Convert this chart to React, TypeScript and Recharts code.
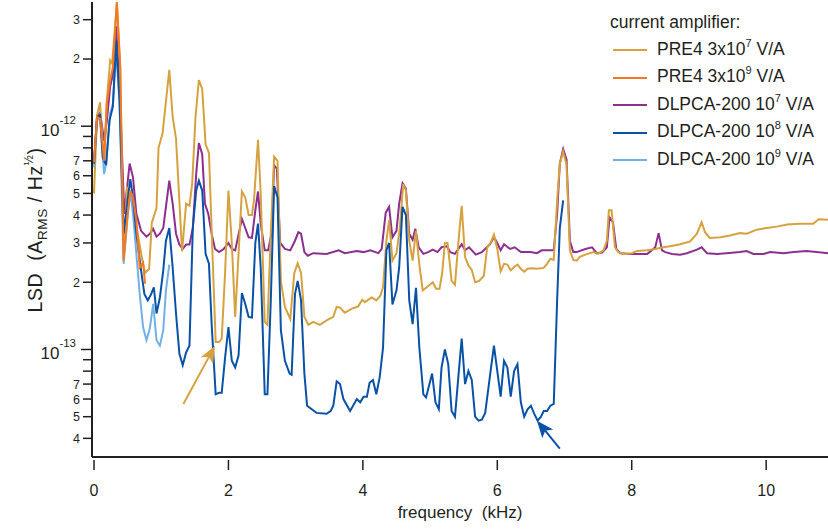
import { Legend, Line, LineChart, ReferenceLine, XAxis, YAxis } from 'recharts';

const FONT = '"Liberation Sans", Arial, Helvetica, sans-serif';
const INK = '#231f20';

// frequency in kHz, LSD in units of 1e-13 A_RMS/Hz^1/2
const freqPre4e7 = [
  0, 0.045, 0.09, 0.1, 0.15, 0.19, 0.24, 0.27, 0.34, 0.39, 0.44, 0.49, 0.54, 0.58, 0.65, 0.72, 0.76, 0.82, 0.86, 0.93,
  0.96, 1.02, 1.12, 1.17, 1.22, 1.31, 1.37, 1.42, 1.46, 1.51, 1.56, 1.61, 1.66, 1.71, 1.77, 1.81, 1.86, 1.9, 1.95, 2.0,
  2.05, 2.1, 2.2, 2.25, 2.3, 2.35, 2.38, 2.44, 2.48, 2.54, 2.58, 2.63, 2.68, 2.73, 2.78, 2.84, 2.92, 2.98, 3.03, 3.08,
  3.13, 3.19, 3.26, 3.36, 3.46, 3.56, 3.61, 3.66, 3.73, 3.83, 3.93, 3.99, 4.03, 4.13, 4.2, 4.26, 4.3, 4.35, 4.39, 4.44,
  4.5, 4.55, 4.6, 4.64, 4.69, 4.74, 4.79, 4.84, 4.89, 4.95, 5.04, 5.09, 5.14, 5.18, 5.22, 5.26, 5.32, 5.37, 5.42, 5.47,
  5.52, 5.57, 5.62, 5.67, 5.73, 5.8, 5.85, 5.9, 5.95, 6.0, 6.05, 6.1, 6.15, 6.2, 6.25, 6.3, 6.35, 6.4, 6.45, 6.52,
  6.59, 6.69, 6.74, 6.79, 6.84, 6.89, 6.93, 6.98, 7.03, 7.08, 7.13, 7.18, 7.23, 7.31, 7.43, 7.5, 7.58, 7.63, 7.66, 7.7,
  7.75, 7.8, 7.88, 8.0, 8.08, 8.23, 8.35, 8.47, 8.57, 8.72, 8.87, 8.97, 9.04, 9.09, 9.16, 9.32, 9.46, 9.61, 9.71, 9.86,
  10.01, 10.16, 10.31, 10.5, 10.7, 10.78, 10.92,
];
const lsdPre4e7 = [
  5.0, 11.2, 12.8, 11.2, 6.8, 13.0, 19.7, 19.1, 35.5, 18.3, 2.6, 5.3, 5.0, 4.3, 3.3, 2.5, 2.2, 2.3, 3.7, 4.3,
  8.0, 9.3, 17.9, 11.0, 8.8, 2.75, 4.5, 4.4, 5.5, 11.0, 16.1, 14.7, 8.3, 7.6, 2.33, 1.08, 1.08, 1.12, 2.2, 5.15,
  3.0, 1.4, 5.1, 4.8, 4.0, 4.0, 4.65, 8.7, 5.0, 1.33, 1.29, 3.3, 7.3, 7.0, 2.03, 1.55, 1.37, 2.2, 2.43, 2.2,
  1.4, 1.29, 1.33, 1.29, 1.35, 1.4, 1.55, 1.54, 1.46, 1.52, 1.56, 1.67, 1.63, 1.71, 1.66, 1.74, 1.9, 3.07, 3.8, 2.5,
  2.7, 3.5, 5.5, 5.15, 3.07, 2.5, 3.4, 2.4, 1.84, 1.9, 2.0, 1.87, 1.87, 2.2, 3.0, 3.0, 2.03, 1.95, 3.0, 4.4,
  2.6, 2.38, 2.27, 2.0, 2.03, 2.14, 2.87, 3.0, 3.27, 2.82, 2.24, 2.42, 2.4, 2.26, 2.34, 2.4, 2.3, 2.23, 2.3, 2.31,
  2.3, 2.32, 2.42, 2.55, 2.52, 4.65, 6.8, 7.7, 6.7, 2.78, 2.52, 2.5, 2.6, 2.66, 2.73, 2.68, 2.78, 3.07, 4.2, 4.2,
  2.87, 2.73, 2.68, 2.7, 2.76, 2.78, 2.82, 2.87, 2.9, 2.96, 3.05, 3.3, 3.72, 3.35, 3.16, 3.18, 3.24, 3.32, 3.3, 3.44,
  3.5, 3.55, 3.63, 3.66, 3.66, 3.83, 3.81,
];

const freqPre4e9 = [0, 0.045, 0.09, 0.15, 0.19, 0.24, 0.28, 0.34, 0.39, 0.44, 0.5, 0.54, 0.58, 0.63, 0.68, 0.73, 0.76];
const lsdPre4e9 = [6.9, 11.0, 10.8, 7.0, 12.6, 16.0, 18.4, 36, 18.4, 2.5, 4.05, 5.15, 4.8, 3.78, 2.33, 2.45, 1.97];

const freqDlpcaE7 = [
  0, 0.045, 0.09, 0.15, 0.19, 0.24, 0.28, 0.33, 0.38, 0.45, 0.53, 0.58, 0.63, 0.7, 0.78, 0.83, 0.88, 0.93, 0.98, 1.03,
  1.07, 1.12, 1.17, 1.22, 1.27, 1.32, 1.37, 1.42, 1.47, 1.52, 1.56, 1.61, 1.65, 1.7, 1.75, 1.8, 1.86, 1.93, 2.0, 2.05,
  2.1, 2.2, 2.25, 2.3, 2.35, 2.4, 2.44, 2.48, 2.54, 2.59, 2.64, 2.68, 2.72, 2.77, 2.84, 2.92, 2.99, 3.04, 3.08, 3.13,
  3.18, 3.26, 3.46, 3.64, 3.73, 3.91, 4.01, 4.11, 4.23, 4.28, 4.34, 4.39, 4.44, 4.5, 4.54, 4.59, 4.64, 4.69, 4.74, 4.78,
  4.83, 4.9, 4.97, 5.04, 5.11, 5.17, 5.25, 5.3, 5.37, 5.47, 5.52, 5.58, 5.68, 5.77, 5.89, 5.95, 6.0, 6.05, 6.1, 6.19,
  6.26, 6.35, 6.49, 6.59, 6.66, 6.84, 6.89, 6.93, 6.98, 7.03, 7.08, 7.13, 7.18, 7.31, 7.41, 7.48, 7.56, 7.63, 7.67, 7.72,
  7.77, 7.83, 7.98, 8.13, 8.23, 8.3, 8.35, 8.4, 8.45, 8.5, 8.6, 8.72, 8.82, 8.97, 9.04, 9.12, 9.27, 9.41, 9.61, 9.71,
  9.81, 9.96, 10.06, 10.26, 10.41, 10.6, 10.75, 10.92,
];
const lsdDlpcaE7 = [
  6.8, 11.0, 11.5, 8.6, 10.5, 15, 17, 28, 15, 4.05, 6.8, 5.9, 4.05, 3.4, 3.2, 3.3, 3.47, 3.2, 3.3, 3.5,
  4.35, 5.7, 4.5, 3.3, 2.95, 2.82, 2.95, 2.95, 3.5, 6.1, 8.4, 7.5, 4.5, 4.05, 3.3, 2.82, 2.73, 2.82, 3.0, 2.82,
  2.78, 3.85, 3.5, 3.18, 3.16, 4.2, 5.1, 3.66, 2.78, 2.78, 3.3, 6.7, 6.45, 3.0, 2.82, 2.78, 3.07, 3.35, 3.3, 2.73,
  2.63, 2.7, 2.68, 2.78, 2.7, 2.76, 2.73, 2.78, 2.7, 2.82, 4.1, 4.35, 3.18, 3.4, 4.5, 5.55, 5.25, 3.3, 3.1, 3.47,
  2.87, 2.68, 2.73, 2.8, 2.73, 2.87, 2.9, 2.73, 2.68, 2.96, 2.78, 2.87, 2.66, 2.73, 2.96, 3.18, 3.0, 2.78, 2.96, 2.82,
  2.87, 2.73, 2.73, 2.7, 2.78, 2.78, 4.05, 6.8, 7.9, 7.1, 3.07, 2.73, 2.73, 2.82, 2.87, 2.7, 2.72, 2.87, 3.9, 3.72,
  2.82, 2.7, 2.68, 2.68, 2.68, 2.78, 2.87, 3.32, 2.78, 2.73, 2.68, 2.66, 2.7, 2.8, 2.87, 2.7, 2.68, 2.7, 2.73, 2.76,
  2.68, 2.68, 2.73, 2.7, 2.73, 2.76, 2.73, 2.7,
];

const freqDlpcaE8 = [
  0, 0.045, 0.09, 0.13, 0.18, 0.23, 0.28, 0.33, 0.38, 0.44, 0.5, 0.54, 0.58, 0.63, 0.7, 0.75, 0.8, 0.85, 0.89, 0.93,
  0.98, 1.03, 1.07, 1.12, 1.17, 1.22, 1.27, 1.32, 1.37, 1.42, 1.47, 1.52, 1.56, 1.61, 1.66, 1.71, 1.75, 1.81, 1.86, 1.9,
  1.95, 2.0, 2.05, 2.1, 2.15, 2.2, 2.25, 2.3, 2.35, 2.4, 2.44, 2.48, 2.54, 2.58, 2.63, 2.68, 2.73, 2.78, 2.84, 2.91,
  2.94, 2.99, 3.03, 3.08, 3.13, 3.17, 3.31, 3.46, 3.52, 3.56, 3.61, 3.66, 3.71, 3.81, 3.91, 3.96, 4.01, 4.06, 4.1, 4.15,
  4.2, 4.25, 4.3, 4.35, 4.39, 4.44, 4.5, 4.54, 4.59, 4.64, 4.69, 4.74, 4.79, 4.84, 4.9, 4.94, 5.03, 5.08, 5.13, 5.17,
  5.22, 5.27, 5.32, 5.37, 5.42, 5.47, 5.52, 5.57, 5.62, 5.67, 5.72, 5.77, 5.82, 5.87, 5.9, 5.95, 6.0, 6.05, 6.1, 6.15,
  6.2, 6.25, 6.3, 6.35, 6.4, 6.45, 6.5, 6.55, 6.6, 6.65, 6.69, 6.74, 6.79, 6.84, 6.89, 6.93, 6.98,
];
const lsdDlpcaE8 = [
  6.8, 11.0, 11.2, 7.25, 6.7, 10.6, 12.2, 24.2, 13.0, 3.3, 4.65, 5.8, 4.8, 3.3, 2.26, 1.77, 1.66, 1.77, 1.9, 1.45,
  1.71, 2.26, 3.07, 3.5, 2.33, 1.45, 0.96, 0.85, 0.97, 1.04, 3.5, 5.15, 5.7, 5.15, 2.68, 2.42, 1.3, 0.63, 0.64, 0.64,
  0.92, 1.26, 0.89, 0.83, 0.94, 1.79, 1.6, 1.4, 1.39, 3.0, 3.66, 2.33, 0.63, 0.63, 1.66, 5.4, 4.8, 1.22, 0.89, 0.78,
  0.77, 1.77, 2.03, 1.66, 0.78, 0.56, 0.52, 0.515, 0.53, 0.56, 0.72, 0.7, 0.6, 0.53, 0.6, 0.58, 0.615, 0.615, 0.71, 0.73,
  0.63, 0.75, 1.02, 2.78, 3.0, 1.59, 1.84, 2.33, 4.35, 4.0, 1.66, 1.3, 1.89, 1.02, 0.63, 0.61, 0.78, 0.58, 0.54, 0.83,
  1.0, 0.86, 0.53, 0.5, 0.75, 1.12, 0.7, 0.8, 0.73, 0.5, 0.48, 0.485, 0.52, 0.68, 0.8, 1.04, 0.8, 0.615, 0.89, 0.83,
  0.615, 0.8, 0.86, 0.58, 0.5, 0.54, 0.56, 0.515, 0.48, 0.5, 0.53, 0.53, 0.56, 0.57, 1.66, 3.5, 4.65,
];

const freqDlpcaE9 = [0, 0.045, 0.09, 0.15, 0.18, 0.24, 0.28, 0.33, 0.38, 0.44, 0.5, 0.54, 0.58, 0.63, 0.68, 0.73, 0.78, 0.83, 0.88, 0.93, 0.98, 1.03, 1.07, 1.12];
const lsdDlpcaE9 = [6.55, 10.6, 11.0, 6.1, 6.8, 11.4, 12.6, 21.8, 12.6, 2.42, 3.92, 5.15, 4.05, 2.68, 1.77, 1.26, 1.1, 1.24, 1.6, 1.1, 1.04, 1.22, 1.84, 2.4];

const freqTicks = [0, 2, 4, 6, 8, 10];
const lsdTicks = [0.4, 0.5, 0.6, 0.7, 0.8, 0.9, 1, 2, 3, 4, 5, 6, 7, 8, 9, 10, 20, 30];
const lsdTickLabels = ['4', '5', '6', '7', '', '', '-13', '2', '3', '4', '5', '6', '7', '', '', '-12', '2', '3'];

const series = [
  { key: 'pre4e7', label: 'PRE4 3x10', exp: '7', color: '#d6a23f', freq: freqPre4e7, lsd: lsdPre4e7 },
  { key: 'pre4e9', label: 'PRE4 3x10', exp: '9', color: '#f37a22', freq: freqPre4e9, lsd: lsdPre4e9 },
  { key: 'dlpcaE7', label: 'DLPCA-200 10', exp: '7', color: '#8c2f8f', freq: freqDlpcaE7, lsd: lsdDlpcaE7 },
  { key: 'dlpcaE8', label: 'DLPCA-200 10', exp: '8', color: '#0a52a6', freq: freqDlpcaE8, lsd: lsdDlpcaE8 },
  { key: 'dlpcaE9', label: 'DLPCA-200 10', exp: '9', color: '#72b1e6', freq: freqDlpcaE9, lsd: lsdDlpcaE9 },
];
// drawing order (last on top)
const drawOrder = ['dlpcaE7', 'pre4e7', 'dlpcaE9', 'dlpcaE8', 'pre4e9'];

function FreqTick({ x, y, payload }: any) {
  return (
    <g>
      <line x1={x} x2={x} y1={y + 3} y2={y + 13} stroke={INK} strokeWidth={1.5} />
      <text x={x} y={y + 39} textAnchor="middle" fontSize={16} fontFamily={FONT} fill={INK}>
        {payload.value}
      </text>
    </g>
  );
}

function LsdTick({ x, y, index }: any) {
  const label = lsdTickLabels[index] ?? '';
  const major = label.startsWith('-');
  return (
    <g>
      <line x1={x - (major ? 11 : 9)} x2={x - 1} y1={y} y2={y} stroke={INK} strokeWidth={1.5} />
      {major ? (
        <text x={x - 16} y={y + 10} textAnchor="end" fontFamily={FONT} fill={INK}>
          <tspan fontSize={17}>10</tspan>
          <tspan fontSize={11.5} dy={-12}>{label}</tspan>
        </text>
      ) : (
        <text x={x - 12} y={y + 4.5} textAnchor="end" fontSize={12.5} fontFamily={FONT} fill={INK}>
          {label}
        </text>
      )}
    </g>
  );
}

const yTitle = () => (
  <text
    x={42}
    y={230}
    transform="rotate(-90 42 230)"
    textAnchor="middle"
    fontSize={19.5}
    letterSpacing={0.6}
    fontFamily={FONT}
    fill={INK}
    style={{ whiteSpace: 'pre' }}
  >
    <tspan>LSD  (A</tspan>
    <tspan fontSize={13.5} dy={5}>RMS</tspan>
    <tspan dy={-5}> / Hz</tspan>
    <tspan fontSize={12} dy={-9}>½</tspan>
    <tspan dy={9}>)</tspan>
  </text>
);

const xTitle = () => (
  <text x={460} y={518} textAnchor="middle" fontSize={17} fontFamily={FONT} fill={INK} style={{ whiteSpace: 'pre' }}>
    frequency  (kHz)
  </text>
);

function arrowShape(color: string) {
  return (p: any) => {
    const { x1, y1, x2, y2 } = p;
    const dx = x2 - x1;
    const dy = y2 - y1;
    const len = Math.hypot(dx, dy) || 1;
    const ux = dx / len;
    const uy = dy / len;
    const hl = 17;
    const hw = 7;
    const bx = x2 - ux * hl;
    const by = y2 - uy * hl;
    const nx = x2 - ux * (hl - 4);
    const ny = y2 - uy * (hl - 4);
    const pts = `${x2},${y2} ${bx - uy * hw},${by + ux * hw} ${nx},${ny} ${bx + uy * hw},${by - ux * hw}`;
    return (
      <g>
        <line x1={x1} y1={y1} x2={nx} y2={ny} stroke={color} strokeWidth={2} />
        <polygon points={pts} fill={color} />
      </g>
    );
  };
}

function LegendBox() {
  return (
    <div style={{ fontFamily: FONT, fontSize: 17.5, color: INK, lineHeight: '27.5px', whiteSpace: 'nowrap' }}>
      <div>current amplifier:</div>
      {series.map((s) => (
        <div key={s.key} style={{ display: 'flex', alignItems: 'center', height: 27.5 }}>
          <svg width={45} height={4} style={{ marginLeft: 2 }}>
            <line x1={1} x2={35} y1={2} y2={2} stroke={s.color} strokeWidth={2} />
          </svg>
          <span>
            {s.label}
            <span style={{ fontSize: 11, position: 'relative', top: -8 }}>{s.exp}</span> V/A
          </span>
        </div>
      ))}
    </div>
  );
}

export default function App() {
  const byKey = Object.fromEntries(series.map((s) => [s.key, s]));
  return (
    <div style={{ position: 'absolute', left: 0, top: 0, background: '#fff' }}>
      <LineChart width={828} height={530} margin={{ top: 2, right: 0, bottom: 0, left: 0 }}>
        <XAxis
          type="number"
          dataKey="f"
          domain={[-0.03, 10.92]}
          ticks={freqTicks}
          allowDataOverflow
          tickSize={0}
          tickMargin={0}
          tickLine={false}
          tick={<FreqTick />}
          axisLine={{ stroke: INK, strokeWidth: 2 }}
          height={73}
          label={xTitle}
        />
        <YAxis
          type="number"
          scale="log"
          domain={[0.33, 36]}
          ticks={lsdTicks}
          allowDataOverflow
          width={92}
          tickSize={0}
          tickMargin={0}
          tickLine={false}
          tick={<LsdTick />}
          interval={0}
          axisLine={{ stroke: INK, strokeWidth: 2 }}
          label={yTitle}
        />
        {drawOrder.map((k) => {
          const s = byKey[k];
          return (
            <Line
              key={s.key}
              data={s.freq.map((f: number, i: number) => ({ f, lsd: s.lsd[i] }))}
              dataKey="lsd"
              type="linear"
              stroke={s.color}
              strokeWidth={2}
              dot={false}
              isAnimationActive={false}
            />
          );
        })}
        <ReferenceLine segment={[{ x: 1.33, y: 0.57 }, { x: 1.8, y: 1.04 }]} shape={arrowShape('#d6a23f')} />
        <ReferenceLine segment={[{ x: 6.93, y: 0.36 }, { x: 6.59, y: 0.48 }]} shape={arrowShape('#0a52a6')} />
        <Legend
          layout="vertical"
          align="center"
          verticalAlign="middle"
          content={<LegendBox />}
          wrapperStyle={{ left: 610, top: 9, width: 218, height: 166 }}
        />
      </LineChart>
    </div>
  );
}
